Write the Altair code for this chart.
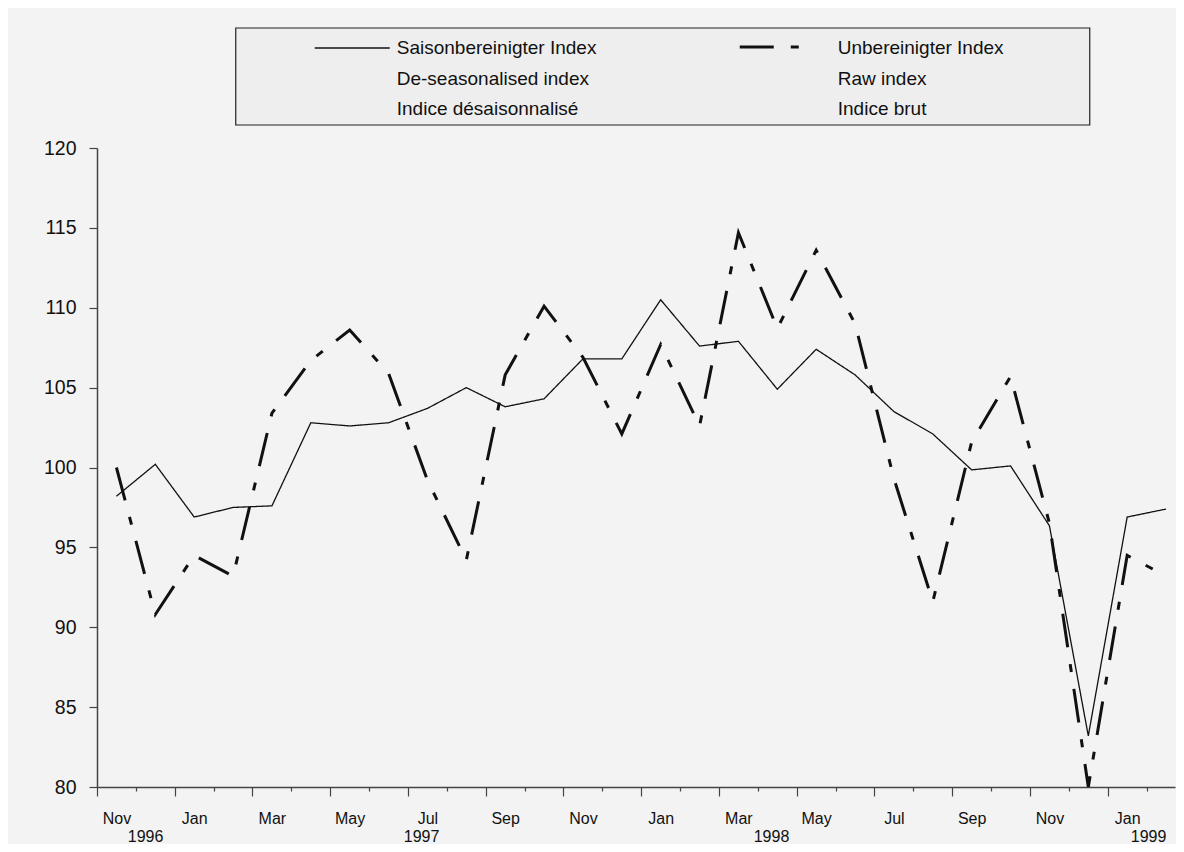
import json
import altair as alt
import pandas as pd

# ---------------- data ----------------
months = ["Nov", "Dec", "Jan", "Feb", "Mar", "Apr", "May", "Jun", "Jul", "Aug", "Sep", "Oct",
          "Nov", "Dec", "Jan", "Feb", "Mar", "Apr", "May", "Jun", "Jul", "Aug", "Sep", "Oct",
          "Nov", "Dec", "Jan", "Feb"]
deseasonalised = [98.2, 100.2, 96.9, 97.5, 97.6, 102.8, 102.6, 102.8, 103.7, 105.0, 103.8, 104.3,
                  106.8, 106.8, 110.5, 107.6, 107.9, 104.9, 107.4, 105.8, 103.5, 102.1, 99.85, 100.1,
                  96.35, 83.2, 96.9, 97.4]
raw = [100.0, 90.8, 94.5, 93.2, 103.4, 106.7, 108.6, 105.9, 99.2, 94.2, 105.8, 110.1,
       106.9, 102.1, 107.7, 102.6, 114.7, 108.7, 113.6, 109.0, 99.3, 91.6, 101.6, 105.7,
       96.5, 80.0, 94.5, 93.2]
y_ticks = [80, 85, 90, 95, 100, 105, 110, 115, 120]
years = ["1996", "1997", "1998", "1999"]
year_at = [0.75, 7.85, 16.85, 26.55]   # month index under which each year is written
legend_de = ["Saisonbereinigter Index", "De-seasonalised index", "Indice désaisonnalisé"]
legend_raw = ["Unbereinigter Index", "Raw index", "Indice brut"]
series_names = ["de", "raw"]

# ---------------- tables ----------------
n = len(months)
df = pd.DataFrame({
    "m": list(range(n)) * 2,
    "v": deseasonalised + raw,
    "s": [series_names[0]] * n + [series_names[1]] * n,
})
df_years = pd.DataFrame({"m": year_at, "year": years})
one = pd.DataFrame({"a": [0]})

W, H = 1078, 639
FONT = "Liberation Sans, Arial, sans-serif"
INK = "#111111"
AX = "#444444"
DASH = [34, 17, 8, 17]

xscale = alt.Scale(domain=[-0.5, 27.23], nice=False, zero=False)
yscale = alt.Scale(domain=[80, 120], nice=False, zero=False)

major = "round(datum.value + 0.5) % 2 == 0"
label_expr = f"{major} ? {json.dumps(months)}[round(datum.value + 0.5)] : ''"

x_axis = alt.Axis(
    values=[i - 0.5 for i in range(n)],
    labelExpr=label_expr,
    labelOffset=19.4,
    labelPadding=14,
    labelFont=FONT,
    labelFontSize=16,
    labelColor=INK,
    labelOverlap=False,
    labelFlush=False,
    tickSize={"condition": {"test": major, "value": 9}, "value": 4},
    tickColor=AX,
    tickWidth=1.2,
    domainColor=AX,
    domainWidth=1.5,
    grid=False,
    title=None,
)
y_axis = alt.Axis(
    values=y_ticks,
    tickSize=8,
    labelPadding=13,
    labelFont=FONT,
    labelFontSize=19.5,
    labelColor=INK,
    tickColor=AX,
    tickWidth=1.2,
    domainColor=AX,
    domainWidth=1.5,
    grid=False,
    title=None,
)

lines = alt.Chart(df).mark_line(color=INK, clip=True).encode(
    x=alt.X("m:Q", scale=xscale, axis=x_axis),
    y=alt.Y("v:Q", scale=yscale, axis=y_axis),
    detail="s:N",
    strokeDash=alt.StrokeDash("s:N", scale=alt.Scale(domain=series_names, range=[[1, 0], DASH]), legend=None),
    strokeWidth=alt.StrokeWidth("s:N", scale=alt.Scale(domain=series_names, range=[1.3, 3]), legend=None),
)

year_text = alt.Chart(df_years).mark_text(
    font=FONT, fontSize=16, color=INK, baseline="middle", align="center"
).encode(
    x=alt.X("m:Q", scale=xscale, axis=x_axis),
    y=alt.value(H + 50),
    text="year:N",
)

# ---------------- legend box (drawn above the plot) ----------------
box = alt.Chart(one).mark_rect(fill="#eeeeee", stroke="#222222", strokeWidth=1.2).encode(
    x=alt.value(138.75), x2=alt.value(992.75), y=alt.value(-120), y2=alt.value(-23)
)
leg_solid = alt.Chart(one).mark_rule(color=INK, strokeWidth=1.3).encode(
    x=alt.value(217.75), x2=alt.value(292.75), y=alt.value(-100)
)
leg_dash = alt.Chart(one).mark_rule(color=INK, strokeWidth=3, strokeDash=DASH).encode(
    x=alt.value(642.75), x2=alt.value(702.75), y=alt.value(-101)
)
leg_text_de = alt.Chart(one).mark_text(
    font=FONT, fontSize=19, color=INK, align="left", baseline="middle", lineHeight=30.5
).encode(x=alt.value(299.75), y=alt.value(-100), text=alt.value(legend_de))
leg_text_raw = alt.Chart(one).mark_text(
    font=FONT, fontSize=19, color=INK, align="left", baseline="middle", lineHeight=30.5
).encode(x=alt.value(740.75), y=alt.value(-100), text=alt.value(legend_raw))

chart = alt.layer(
    box, leg_solid, leg_dash, leg_text_de, leg_text_raw, lines, year_text
).properties(
    width=W,
    height=H,
    autosize=alt.AutoSizeParams(type="none"),
    padding={"left": 89, "top": 140, "right": 1, "bottom": 57},
    background="#f3f3f3",
).configure_view(stroke=None)

chart.save("out.html", embed_options={"renderer": "svg", "actions": False})
